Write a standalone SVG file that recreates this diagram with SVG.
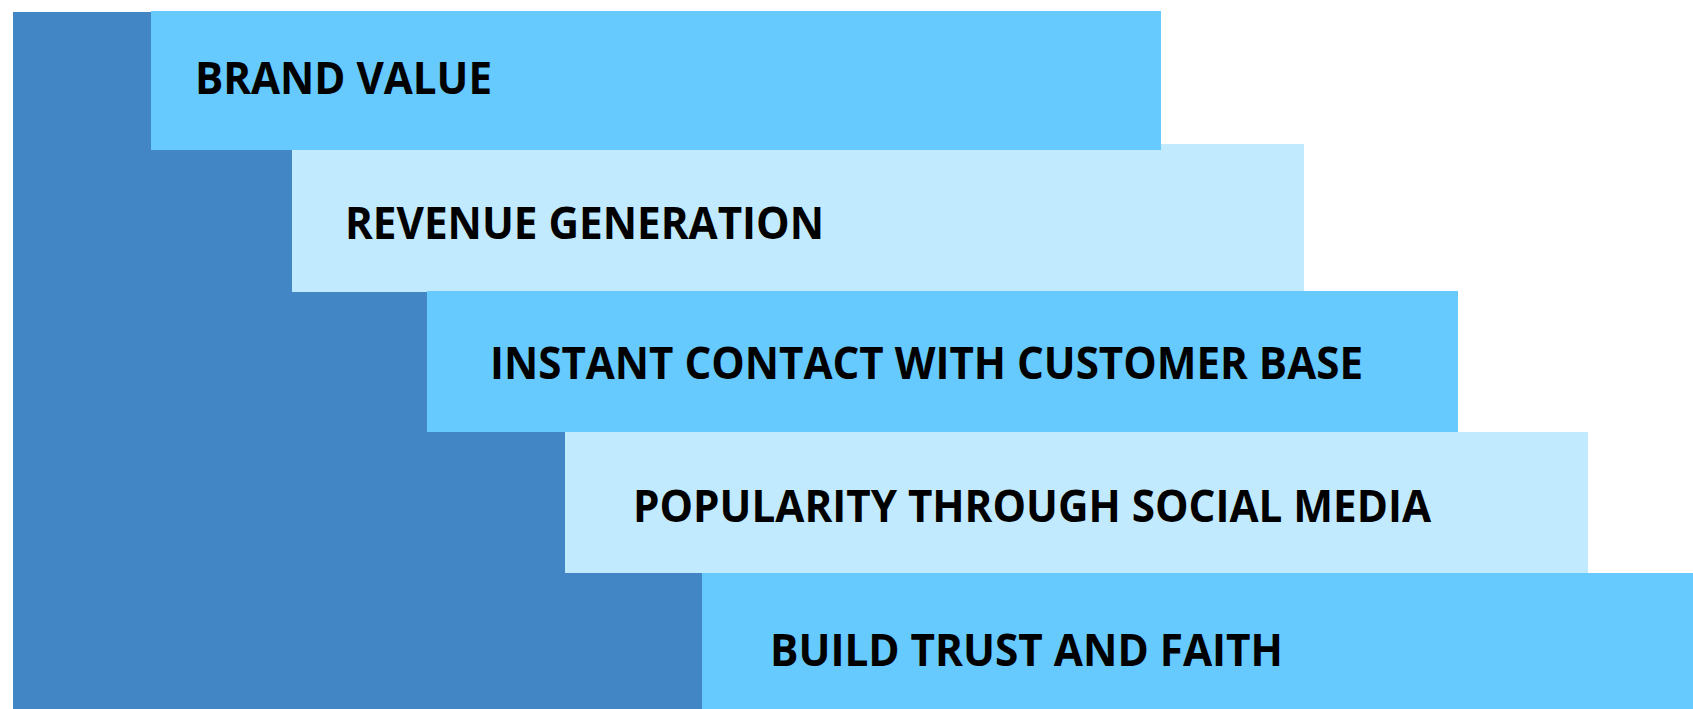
<svg xmlns="http://www.w3.org/2000/svg" width="1693" height="709" viewBox="0 0 1693 709">
<style>
.bg{fill:#4386C5}
.b1{fill:#66CAFF}
.b2{fill:#C2EAFE}
.t{font-family:"Open Sans","Noto Sans","Liberation Sans",sans-serif;font-weight:bold;font-size:44px;fill:#000}
</style>
<rect width="1693" height="709" fill="#fff"/>
<g id="base"><rect class="bg" x="13" y="12" width="700" height="697"/></g>
<g id="n2"><rect class="b2" x="292" y="144" width="1012" height="148"/><text class="t" x="345" y="239" textLength="479" lengthAdjust="spacingAndGlyphs">REVENUE GENERATION</text></g>
<g id="n1"><rect class="b1" x="151" y="11" width="1010" height="139"/><text class="t" x="195" y="94" textLength="297" lengthAdjust="spacingAndGlyphs">BRAND VALUE</text></g>
<g id="n3"><rect class="b1" x="427" y="291" width="1031" height="141"/><text class="t" x="490" y="379" textLength="873" lengthAdjust="spacingAndGlyphs">INSTANT CONTACT WITH CUSTOMER BASE</text></g>
<g id="n4"><rect class="b2" x="565" y="432" width="1023" height="141"/><text class="t" x="633" y="522" textLength="798" lengthAdjust="spacingAndGlyphs">POPULARITY THROUGH SOCIAL MEDIA</text></g>
<g id="n5"><rect class="b1" x="702" y="573" width="991" height="136"/><text class="t" x="770" y="666" textLength="513" lengthAdjust="spacingAndGlyphs">BUILD TRUST AND FAITH</text></g>
<g id="connectors"></g>
</svg>
